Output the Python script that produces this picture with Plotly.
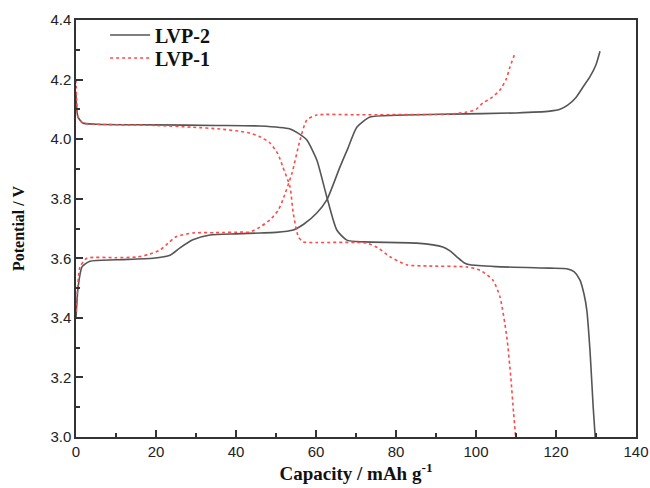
import plotly.graph_objects as go

# LVP-2 (solid gray/black)
lvp2_charge_x = [0, 0.5, 1.5, 3.5, 10, 19.3, 23.5, 26, 29.2, 33.5, 40, 46, 50, 54.3, 57, 60.2, 62.7, 66, 68, 70.2, 73.5, 80, 93.5, 110, 118.5, 121, 123, 125, 127, 128.5, 130, 131]
lvp2_charge_y = [3.40, 3.50, 3.571, 3.59, 3.595, 3.60, 3.61, 3.635, 3.662, 3.678, 3.682, 3.685, 3.687, 3.695, 3.715, 3.752, 3.796, 3.907, 3.97, 4.04, 4.074, 4.08, 4.084, 4.088, 4.094, 4.10, 4.115, 4.14, 4.18, 4.21, 4.25, 4.295]
lvp2_dis_x = [0, 0.2, 0.5, 1.7, 5, 20, 35, 46, 53.5, 55.5, 57.7, 60.2, 62.7, 65.2, 67.7, 72, 85.2, 91.7, 93.5, 95.2, 97, 98.5, 105, 118.5, 122.7, 124.5, 126, 127, 127.7, 128.5, 129.3, 129.8]
lvp2_dis_y = [4.15, 4.10, 4.074, 4.054, 4.05, 4.048, 4.046, 4.044, 4.034, 4.02, 3.997, 3.93, 3.806, 3.695, 3.661, 3.655, 3.651, 3.638, 3.625, 3.605, 3.585, 3.578, 3.572, 3.567, 3.565, 3.555, 3.527, 3.48, 3.426, 3.29, 3.10, 3.0]

# LVP-1 (red dotted)
lvp1_charge_x = [0, 0.25, 1, 2.7, 10, 15, 18, 21, 23, 25, 29.2, 35, 41.7, 43.5, 46, 48.5, 50.5, 51.7, 54, 56, 57.7, 60.2, 70, 93.5, 97.7, 100, 101.7, 104, 106, 107.5, 108.5, 109.75]
lvp1_charge_y = [3.42, 3.47, 3.571, 3.60, 3.602, 3.604, 3.612, 3.628, 3.65, 3.672, 3.685, 3.686, 3.688, 3.688, 3.705, 3.729, 3.76, 3.796, 3.886, 3.997, 4.064, 4.081, 4.082, 4.084, 4.091, 4.10, 4.121, 4.14, 4.165, 4.20, 4.242, 4.289]
lvp1_dis_x = [0, 0.2, 0.5, 1.7, 5, 20, 29.2, 36, 41.7, 43.5, 46, 48.5, 50.5, 51.7, 53.5, 54.3, 55.6, 56.8, 60, 72.7, 75.5, 78.5, 82.7, 88, 97.7, 101, 104.2, 106, 107.7, 108.7, 109.4, 109.9]
lvp1_dis_y = [4.20, 4.12, 4.074, 4.054, 4.05, 4.046, 4.04, 4.034, 4.025, 4.02, 4.008, 3.987, 3.95, 3.907, 3.84, 3.752, 3.672, 3.655, 3.653, 3.651, 3.635, 3.605, 3.578, 3.574, 3.571, 3.56, 3.527, 3.47, 3.336, 3.20, 3.08, 3.0]

x2 = lvp2_charge_x + [None] + lvp2_dis_x
y2 = lvp2_charge_y + [None] + lvp2_dis_y
x1 = lvp1_charge_x + [None] + lvp1_dis_x
y1 = lvp1_charge_y + [None] + lvp1_dis_y

fig = go.Figure()
fig.add_trace(go.Scatter(x=x2, y=y2, mode="lines", name="LVP-2", legend="legend",
                         line=dict(color="#555555", width=1.6, shape="spline", smoothing=0.6),
                         connectgaps=False))
fig.add_trace(go.Scatter(x=x1, y=y1, mode="lines", name="LVP-1", legend="legend2",
                         line=dict(color="#ff4a4a", width=1.6, dash="dot", shape="spline", smoothing=0.6),
                         connectgaps=False))

axis_common = dict(
    showline=True, linecolor="#333333", linewidth=1.5, mirror=True,
    ticks="inside", ticklen=7, tickwidth=1.5, tickcolor="#333333",
    showgrid=False, zeroline=False, automargin=False,
    tickfont=dict(family="Liberation Sans, Arial", size=15, color="#222222"),
)

fig.update_xaxes(range=[0, 140], dtick=20, tick0=0,
                 minor=dict(ticks="inside", dtick=10, ticklen=4, tickwidth=1.5, tickcolor="#333333"),
                 title=dict(text="Capacity / mAh g<sup>-1</sup>", standoff=4,
                            font=dict(family="Liberation Serif, Times New Roman", size=19, color="#111111", weight="bold")),
                 **axis_common)
fig.update_yaxes(range=[3.0, 4.4], dtick=0.2, tick0=3.0, tickformat=".1f",
                 minor=dict(ticks="inside", dtick=0.1, ticklen=4, tickwidth=1.5, tickcolor="#333333"),
                 title=dict(text="Potential / V", standoff=22,
                            font=dict(family="Liberation Serif, Times New Roman", size=16, color="#111111", weight="bold")),
                 **axis_common)

legend_style = dict(xanchor="left", yanchor="middle", bgcolor="rgba(0,0,0,0)", borderwidth=0,
                    font=dict(family="Liberation Serif, Times New Roman", size=20, color="#111111", weight="bold"),
                    itemwidth=40)

fig.update_layout(
    width=650, height=488,
    margin=dict(l=76, r=14, t=20, b=51),
    paper_bgcolor="white", plot_bgcolor="white",
    showlegend=True,
    legend=dict(x=0.052, y=0.964, **legend_style),
    legend2=dict(x=0.052, y=0.909, **legend_style),
)

fig.write_html(
    "out.html",
    config={"displayModeBar": False},
    post_script="document.body.style.margin='0';document.documentElement.style.overflow='hidden';",
)
